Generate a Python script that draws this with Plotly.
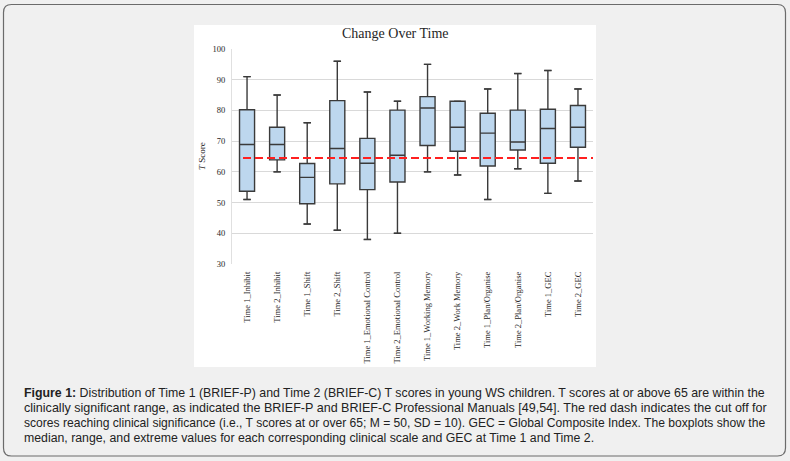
import plotly.graph_objects as go

# ---- data ----
categories = ["Time 1_Inhibit", "Time 2_Inhibit", "Time 1_Shift", "Time 2_Shift",
              "Time 1_Emotional Control", "Time 2_Emotional Control",
              "Time 1_Working Memory", "Time 2_Work Memory",
              "Time 1_Plan/Organise", "Time 2_Plan/Organise",
              "Time 1_GEC", "Time 2_GEC"]
maximum = [91, 85, 76, 96, 86, 83, 95, 83, 87, 92, 93, 87]
q3      = [80.2, 74.5, 62.7, 83.2, 70.9, 80.1, 84.5, 83.0, 79.1, 80.1, 80.4, 81.6]
median  = [68.9, 68.9, 58.2, 67.6, 62.8, 65.4, 80.8, 74.5, 72.6, 69.7, 74.1, 74.5]
q1      = [53.7, 63.9, 49.6, 56.1, 54.2, 56.7, 68.6, 66.7, 61.9, 67.1, 62.8, 68.0]
minimum = [51, 60, 43, 41, 38, 40, 60, 59, 51, 61, 53, 57]
cutoff = 64.5
y_ticks = [30, 40, 50, 60, 70, 80, 90, 100]

title_text = "Change Over Time"
y_title = "<i>T</i> Score"
caption_lines = [
    "<b>Figure 1:</b> Distribution of Time 1 (BRIEF-P) and Time 2 (BRIEF-C) T scores in young WS children. T scores at or above 65 are within the",
    "clinically significant range, as indicated the BRIEF-P and BRIEF-C Professional Manuals [49,54]. The red dash indicates the cut off for",
    "scores reaching clinical significance (i.e., T scores at or over 65; M = 50, SD = 10). GEC = Global Composite Index. The boxplots show the",
    "median, range, and extreme values for each corresponding clinical scale and GEC at Time 1 and Time 2.",
]

# ---- layout geometry (pixels) ----
W, H = 790, 461
ML, MR, MT, MB = 232, 197, 49, 197
PW = W - ML - MR
PH = H - MT - MB


def px(xp):
    return (xp - ML) / PW


def py(yp):
    return (H - MB - yp) / PH


SERIF = "Liberation Serif, Times New Roman, serif"
SANS = "Liberation Sans, Arial, sans-serif"
LINE = "#3a3a3a"

fig = go.Figure()

fig.add_trace(go.Box(
    x=categories, q1=q1, median=median, q3=q3,
    lowerfence=minimum, upperfence=maximum,
    fillcolor="#BDD7EE", line=dict(color=LINE, width=1.4),
    width=0.5, boxpoints=False, showlegend=False, hoverinfo="skip",
))
# whisker caps
fig.add_trace(go.Scatter(
    x=categories + categories, y=maximum + minimum, mode="markers",
    marker=dict(symbol="line-ew", size=5, line=dict(color=LINE, width=1.2)),
    showlegend=False, hoverinfo="skip",
))

shapes = []
# outer rounded frame
x0, x1, y0, y1, r = 3.5, 785.5, 4.5, 456, 8
path = (f"M {px(x0 + r)},{py(y0)} L {px(x1 - r)},{py(y0)} "
        f"Q {px(x1)},{py(y0)} {px(x1)},{py(y0 + r)} "
        f"L {px(x1)},{py(y1 - r)} Q {px(x1)},{py(y1)} {px(x1 - r)},{py(y1)} "
        f"L {px(x0 + r)},{py(y1)} Q {px(x0)},{py(y1)} {px(x0)},{py(y1 - r)} "
        f"L {px(x0)},{py(y0 + r)} Q {px(x0)},{py(y0)} {px(x0 + r)},{py(y0)} Z")
shapes.append(dict(type="path", xref="paper", yref="paper", path=path,
                   line=dict(color="#6b6b6b", width=1.2), fillcolor="#f0f0f0",
                   layer="below"))
# white chart area
shapes.append(dict(type="rect", xref="paper", yref="paper",
                   x0=px(194), x1=px(596), y0=py(367), y1=py(25),
                   line=dict(width=0), fillcolor="white", layer="below"))
# red cut-off line
shapes.append(dict(type="line", xref="paper", yref="y",
                   x0=px(243), x1=1, y0=cutoff, y1=cutoff,
                   line=dict(color="#FF2020", width=2, dash="8px,4px"),
                   layer="above"))

annotations = [
    dict(text=title_text, xref="paper", yref="paper", x=px(395.5), y=py(33),
         xanchor="center", yanchor="middle", showarrow=False,
         font=dict(family=SERIF, size=14, color="#262626")),
    dict(text=y_title, xref="paper", yref="paper", x=px(202), y=py(156),
         xanchor="center", yanchor="middle", showarrow=False, textangle=-90,
         font=dict(family=SERIF, size=9, color="#262626")),
]
# slightly different sizes emulate the justified paragraph widths
caption_sizes = [12.35, 12.55, 12.1, 12.3]
for line, yy, fs in zip(caption_lines, [393, 408, 423, 437.5], caption_sizes):
    annotations.append(dict(text=line, xref="paper", yref="paper",
                            x=px(22), y=py(yy), xanchor="left", yanchor="middle",
                            showarrow=False,
                            font=dict(family=SANS, size=fs, color="#222222")))

fig.update_layout(
    width=W, height=H,
    margin=dict(l=ML, r=MR, t=MT, b=MB, pad=0),
    paper_bgcolor="#f0f0f0", plot_bgcolor="white",
    shapes=shapes, annotations=annotations,
    xaxis=dict(type="category", categoryorder="array", categoryarray=categories,
               tickangle=-90, showgrid=False, zeroline=False, showline=False,
               ticks="", tickfont=dict(family=SERIF, size=8.5, color="#262626"),
               ticklabelstandoff=5, range=[-0.5, len(categories) - 0.5]),
    yaxis=dict(range=[30, 100], tickvals=y_ticks, showgrid=True,
               gridcolor="#d9d9d9", gridwidth=1.3, zeroline=False,
               showline=True, linecolor="#e0e0e0", linewidth=1,
               ticks="", tickfont=dict(family=SERIF, size=8.5, color="#262626"),
               ticklabelstandoff=4),
)

fig.write_html("out.html", config={"displayModeBar": False},
               post_script="document.body.style.margin='0';document.body.style.overflow='hidden';")
